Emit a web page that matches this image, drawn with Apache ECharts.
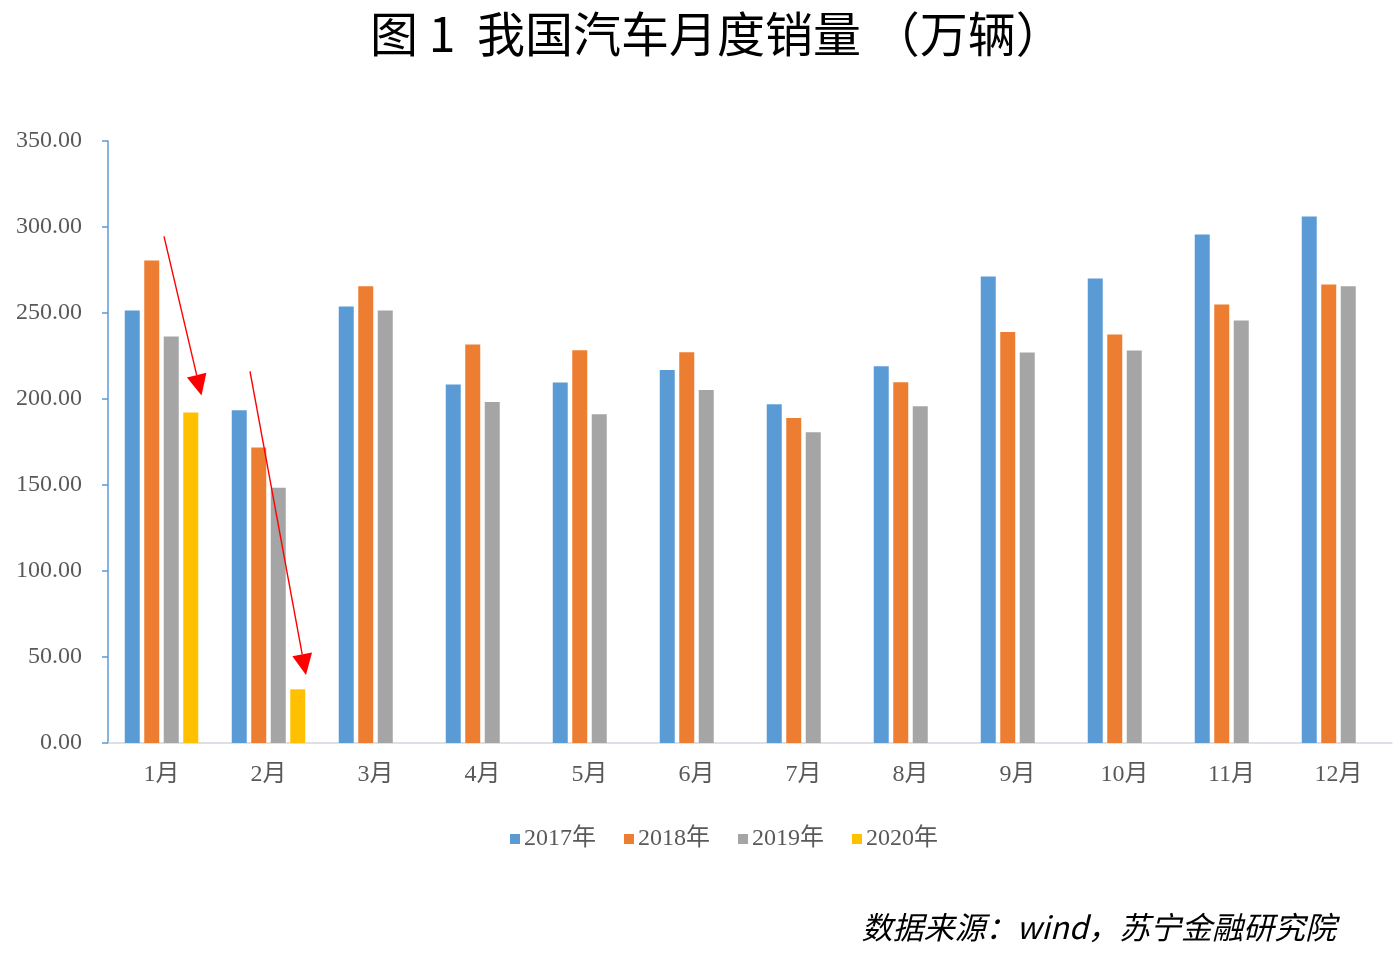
<!DOCTYPE html>
<html>
<head>
<meta charset="utf-8">
<title>图1 我国汽车月度销量</title>
<script src="https://cdn.jsdelivr.net/npm/echarts@6/dist/echarts.min.js"></script>
<style>
  html, body { margin: 0; padding: 0; background: #fff; }
  #chart { width: 1399px; height: 956px; }
</style>
</head>
<body>
<div id="chart"></div>
<script>
// data (万辆)
const months = ['1月', '2月', '3月', '4月', '5月', '6月', '7月', '8月', '9月', '10月', '11月', '12月'];
const sales2017 = [251.5, 193.5, 253.8, 208.5, 209.6, 216.8, 197.0, 219.1, 271.2, 270.1, 295.7, 306.1];
const sales2018 = [280.5, 171.8, 265.5, 231.7, 228.4, 227.2, 188.9, 209.8, 238.9, 237.5, 255.0, 266.6];
const sales2019 = [236.4, 148.4, 251.5, 198.2, 191.2, 205.2, 180.7, 195.8, 227.0, 228.2, 245.7, 265.5];
const sales2020 = [192.2, 31.2, null, null, null, null, null, null, null, null, null, null];
const yTicks = [0, 50, 100, 150, 200, 250, 300, 350];

// arrow annotations: [month index, start value, end value]
const arrows = [
  [0, 294.6, 202.0],
  [1, 216.0, 39.5]
];

const serif = '"Liberation Serif", "Times New Roman", "Noto Sans CJK SC", serif';
const colors = ['#5B9BD5', '#ED7D31', '#A5A5A5', '#FFC000'];

const chart = echarts.init(document.getElementById('chart'));

function bar(name, data) {
  return {
    name: name,
    type: 'bar',
    data: data,
    barWidth: 15,
    barGap: '30%'
  };
}

const option = {
  animation: false,
  color: colors,
  title: [
    {
      text: '图 1  我国汽车月度销量 （万辆）',
      left: 365,
      top: 5,
      textStyle: {
        fontFamily: '"Noto Sans CJK SC", sans-serif',
        fontSize: 48,
        fontWeight: 'normal',
        color: '#000'
      }
    },
    {
      text: '数据来源：wind，苏宁金融研究院',
      right: 58,
      top: 907,
      textStyle: {
        fontFamily: '"Noto Sans CJK SC", sans-serif',
        fontSize: 31,
        fontStyle: 'italic',
        fontWeight: 'normal',
        color: '#000'
      }
    }
  ],
  legend: {
    top: 822,
    left: 505,
    itemWidth: 10,
    itemHeight: 10,
    itemGap: 28,
    icon: 'rect',
    textStyle: { fontFamily: serif, fontSize: 24, color: '#595959', padding: [0, 0, 0, -1] },
    data: ['2017年', '2018年', '2019年', '2020年']
  },
  grid: {
    left: 108,
    right: 7,
    top: 141,
    bottom: 213
  },
  xAxis: {
    type: 'category',
    data: months,
    axisLine: { lineStyle: { color: '#D0D7E0', width: 1.5 } },
    axisTick: { show: false },
    axisLabel: { fontFamily: serif, fontSize: 24, color: '#595959', margin: 20 }
  },
  yAxis: {
    type: 'value',
    min: yTicks[0],
    max: yTicks[yTicks.length - 1],
    interval: 50,
    axisLine: { show: true, lineStyle: { color: '#5B9BD5', width: 1.5 } },
    axisTick: { show: true, length: 6, lineStyle: { color: '#5B9BD5', width: 1.5 } },
    splitLine: { show: false },
    axisLabel: {
      fontFamily: serif,
      fontSize: 24,
      color: '#595959',
      margin: 26,
      formatter: v => v.toFixed(2)
    }
  },
  series: [
    bar('2017年', sales2017),
    bar('2018年', sales2018),
    bar('2019年', sales2019),
    bar('2020年', sales2020)
  ]
};

chart.setOption(option);

// draw the red arrows once the scales exist
function drawArrows() {
  const elements = [];
  arrows.forEach(([idx, fromVal, toVal]) => {
    const p0 = chart.convertToPixel({ gridIndex: 0 }, [idx, fromVal]);
    const p1 = chart.convertToPixel({ gridIndex: 0 }, [idx, toVal]);
    // start just right of the group centre, end above the 2020 bar
    const x0 = p0[0] + (idx === 0 ? 2.5 : -18.5);
    const x1 = p1[0] + (idx === 0 ? 40 : 37.5);
    const y0 = p0[1], y1 = p1[1];
    const ang = Math.atan2(y1 - y0, x1 - x0);
    const headLen = 21, headW = 10;
    const bx = x1 - headLen * Math.cos(ang), by = y1 - headLen * Math.sin(ang);
    const nx = -Math.sin(ang) * headW, ny = Math.cos(ang) * headW;
    elements.push({
      type: 'line',
      shape: { x1: x0, y1: y0, x2: bx, y2: by },
      style: { stroke: '#FF0000', lineWidth: 1.4 },
      z: 100
    });
    elements.push({
      type: 'polygon',
      shape: { points: [[x1, y1], [bx + nx, by + ny], [bx - nx, by - ny]] },
      style: { fill: '#FF0000' },
      z: 100
    });
  });
  chart.setOption({ graphic: elements });
}

drawArrows();
</script>
</body>
</html>
